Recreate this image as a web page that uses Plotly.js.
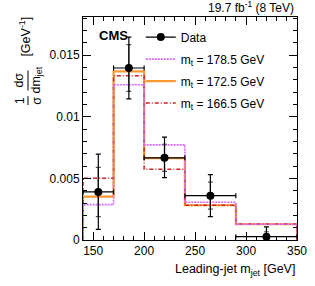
<!DOCTYPE html>
<html>
<head>
<meta charset="utf-8">
<script src="https://cdn.plot.ly/plotly-3.0.1.min.js"></script>
<style>html,body{margin:0;padding:0;background:#fff;}#chart{width:315px;height:286px;}</style>
</head>
<body>
<div id="chart"></div>
<script>
// Bin edges of the leading-jet mass distribution [GeV]
const binEdges = [140, 170, 200, 240, 290, 350];
// Data points (bin centres), normalised cross section [1/GeV]
const dataX = [155, 185, 220, 265, 320];
const dataY = [0.0039, 0.01396, 0.00667, 0.0036, 0.00027];
const dataXErr = [15, 15, 20, 25, 30];
const dataTotErrUp = [0.00307, 0.0025, 0.00168, 0.0017, 0.0008];
const dataTotErrDn = [0.00304, 0.0025, 0.0016, 0.0017, 0.00027];
const dataStatErr = [0.0020, 0.0019, 0.0011, 0.0011, 0.0004];
// Simulations for different top-quark masses
const mt1785 = [0.00287, 0.0126, 0.00772, 0.00306, 0.00128];
const mt1725 = [0.00352, 0.01368, 0.00664, 0.00282, 0.00128];
const mt1665 = [0.00502, 0.01333, 0.00575, 0.00282, 0.0013];
const labels = ['Data', 'm<sub>t</sub> = 178.5 GeV', 'm<sub>t</sub> = 172.5 GeV', 'm<sub>t</sub> = 166.5 GeV'];

function stepX(edges) { return [edges[0]].concat(edges).concat([edges[edges.length - 1]]); }
function stepY(vals) { return [0].concat(vals).concat([vals[vals.length - 1], 0]); }

const font = 'Liberation Sans, Arial, Helvetica, sans-serif';

const traces = [
  {x: stepX(binEdges), y: stepY(mt1725), mode: 'lines', line: {shape: 'hv', color: '#ff9933', width: 2.2},
   name: labels[2], legendgroup: 'c', legendrank: 3},
  {x: stepX(binEdges), y: stepY(mt1665), mode: 'lines', line: {shape: 'hv', color: '#cc2222', width: 1.5, dash: '4px,2px,1px,2px'},
   name: labels[3], legendgroup: 'd', legendrank: 4},
  {x: stepX(binEdges), y: stepY(mt1785), mode: 'lines', line: {shape: 'hv', color: '#d466ff', width: 1.6, dash: '2px,1px'},
   name: labels[1], legendgroup: 'b', legendrank: 2},
  // stat error ticks
  {x: dataX, y: dataY, mode: 'markers', marker: {size: 0.1, color: 'rgba(0,0,0,0)'}, showlegend: false, hoverinfo: 'skip',
   error_y: {type: 'data', array: dataStatErr, color: '#555', thickness: 1.2, width: 2.5}},
  // data with total errors
  {x: dataX, y: dataY, mode: 'markers', marker: {size: 8, color: '#000'}, showlegend: false,
   error_y: {type: 'data', symmetric: false, array: dataTotErrUp, arrayminus: dataTotErrDn, color: '#000', thickness: 1.2, width: 2.5},
   error_x: {type: 'data', array: dataXErr, color: '#000', thickness: 1.2, width: 2.5}},
  // legend entry for data
  {x: [null], y: [null], mode: 'lines+markers', marker: {size: 8, color: '#000'}, line: {color: '#000', width: 1.2},
   name: labels[0], legendgroup: 'a', legendrank: 1}
];

const layout = {
  width: 315, height: 286,
  margin: {l: 83, r: 18, t: 17, b: 46},
  paper_bgcolor: '#fff', plot_bgcolor: '#fff',
  font: {family: font, size: 12, color: '#000'},
  showlegend: true,
  legend: {x: 0.27, xanchor: 'left', y: 0.975, yanchor: 'top', bgcolor: 'rgba(0,0,0,0)',
           font: {family: font, size: 12}, itemwidth: 30, tracegroupgap: 3, traceorder: 'grouped'},
  xaxis: {range: [140, 350], showline: true, linecolor: '#000', linewidth: 1, mirror: 'allticks',
          ticks: 'inside', ticklen: 8, tickwidth: 1, tickcolor: '#000', dtick: 50, tick0: 0,
          minor: {dtick: 10, ticklen: 4, tickwidth: 1, tickcolor: '#000', ticks: 'inside'},
          showgrid: false, zeroline: false, tickfont: {size: 12}},
  yaxis: {range: [0, 0.0181], showline: true, linecolor: '#000', linewidth: 1, mirror: 'allticks',
          ticks: 'inside', ticklen: 8, tickwidth: 1, tickcolor: '#000', dtick: 0.005, tick0: 0,
          minor: {dtick: 0.001, ticklen: 4, tickwidth: 1, tickcolor: '#000', ticks: 'inside'},
          showgrid: false, zeroline: false, tickfont: {size: 12}},
  annotations: [
    {text: '19.7 fb<sup>-1</sup> (8 TeV)', xref: 'paper', yref: 'paper', x: 0.995, y: 1.045, xanchor: 'right', yanchor: 'middle',
     showarrow: false, font: {size: 12}},
    {text: '<b>CMS</b>', xref: 'paper', yref: 'paper', x: 0.064, y: 0.915, xanchor: 'left', yanchor: 'middle',
     showarrow: false, font: {size: 13}},
    {text: 'Leading-jet m<sub>jet</sub> [GeV]', xref: 'paper', yref: 'paper', x: 1.0, y: -0.09, xanchor: 'right', yanchor: 'top',
     showarrow: false, font: {size: 12.5}},
    {text: '[GeV<sup>-1</sup>]', xref: 'paper', yref: 'paper', x: -0.27, y: 0.913, xanchor: 'center', yanchor: 'middle',
     textangle: -90, showarrow: false, font: {size: 12.5}},
    {text: 'dσ<br>dm<sub>jet</sub>', xref: 'paper', yref: 'paper', x: -0.257, y: 0.715, xanchor: 'center', yanchor: 'middle',
     textangle: -90, showarrow: false, font: {size: 12.5}},
    {text: '1<br>σ', xref: 'paper', yref: 'paper', x: -0.257, y: 0.625, xanchor: 'center', yanchor: 'middle',
     textangle: -90, showarrow: false, font: {size: 12.5}}
  ],
  shapes: [
    {type: 'line', xref: 'paper', yref: 'paper', x0: -0.257, x1: -0.257, y0: 0.605, y1: 0.645, line: {color: '#000', width: 1}},
    {type: 'line', xref: 'paper', yref: 'paper', x0: -0.257, x1: -0.257, y0: 0.67, y1: 0.76, line: {color: '#000', width: 1}}
  ]
};

Plotly.newPlot('chart', traces, layout, {staticPlot: true, displayModeBar: false});
</script>
</body>
</html>
